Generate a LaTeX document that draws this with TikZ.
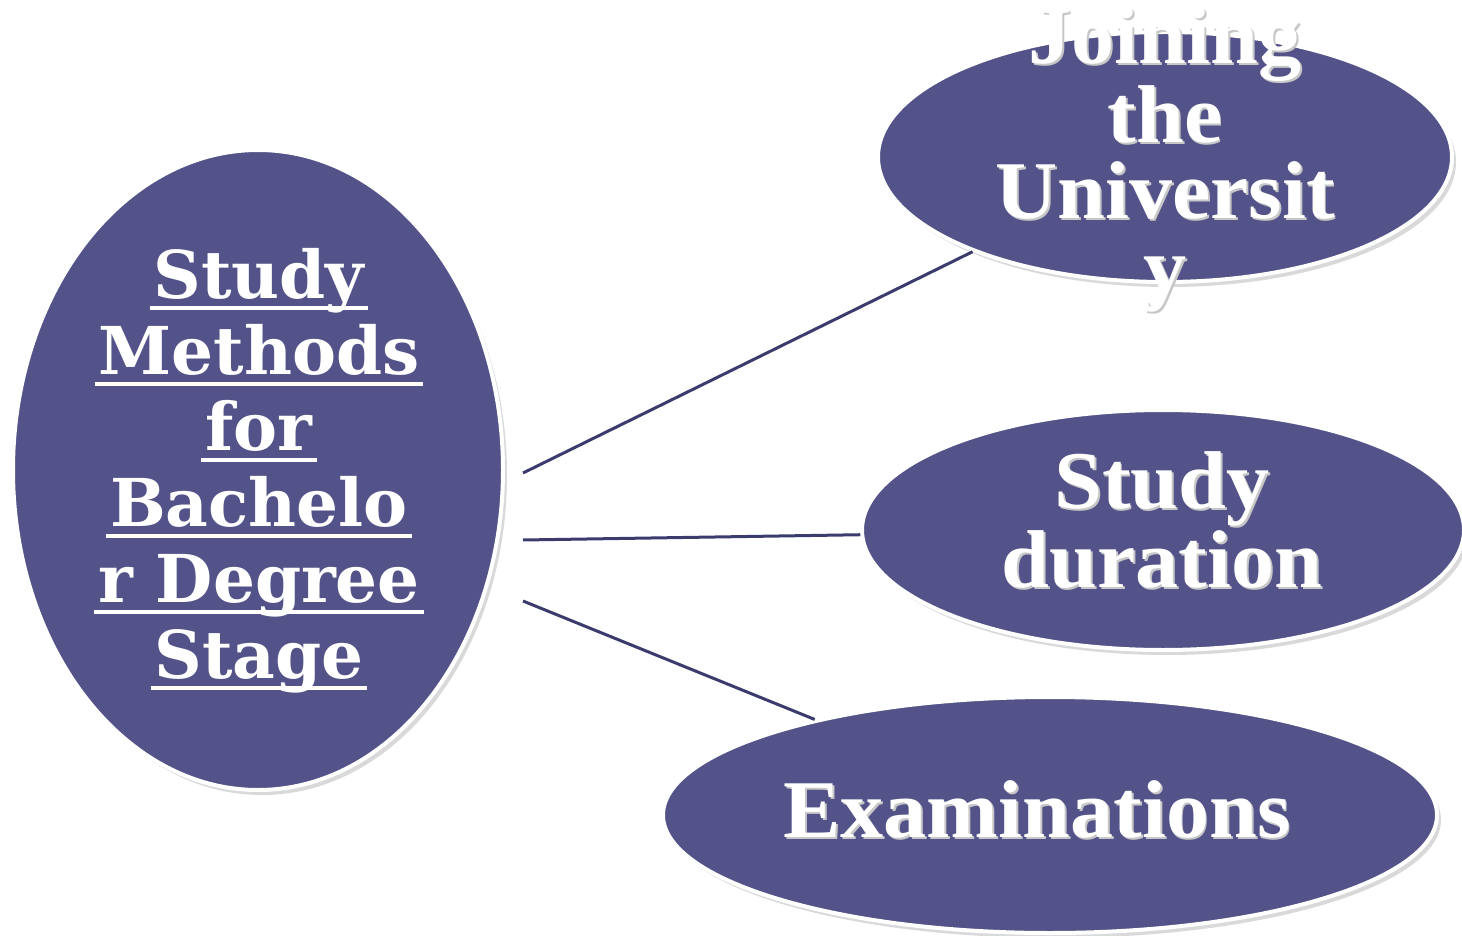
\documentclass[tikz,border=0pt]{standalone}
\usepackage{fontspec}
\setmainfont[FakeStretch=1.05]{Liberation Serif}
\newfontfamily\schoolfont{DejaVu Serif}
\usepackage{xcolor}
\usetikzlibrary{positioning, shapes.geometric, shadows}
\definecolor{bubblefill}{HTML}{535389}
\definecolor{linkcol}{HTML}{3B3B6E}
\newcommand{\ulline}[1]{\setbox0\hbox{#1}\rlap{\kern-0.06em\rule[-0.17em]{\dimexpr\wd0+0.12em\relax}{0.06em}}\box0}
\newcommand{\shd}[1]{\rlap{\kern0.9pt\raisebox{-1pt}{\color{black!22}#1}}#1}

\begin{document}
\begin{tikzpicture}[x=0.5pt, y=-0.5pt,
  bubble/.style={ellipse, draw=white, line width=2pt, fill=bubblefill,
    inner sep=0pt, drop shadow={shadow xshift=2pt, shadow yshift=-2.5pt,
    opacity=0.3}},
  bubtext/.style={text=white, align=center,
    font=\bfseries\fontsize{41}{38}\selectfont},
  maintext/.style={text=white, align=center,
    font=\schoolfont\bfseries\fontsize{33}{38}\selectfont},
  link/.style={draw=linkcol, line width=1.5pt}
]
\useasboundingbox (0,0) rectangle (1462,936);

% central topic
\node[bubble, minimum width=245pt, minimum height=320pt] (main) at (258,470) {};
\node[maintext] (maintxt) at (259,471)
  {\ulline{Study}\\\ulline{Methods}\\\ulline{for}\\\ulline{Bachelo}\\
   \ulline{r Degree}\\\ulline{Stage}};

% branch topics
\node[bubble, minimum width=287pt, minimum height=125pt] (join) at (1165,157) {};
\node[bubble, minimum width=301pt, minimum height=120pt] (duration) at (1163,530) {};
\node[bubble, minimum width=387pt, minimum height=118pt] (exams) at (1050,815) {};

\node[bubtext] (jointxt) at (1165,160)
  {\shd{Joining}\\\shd{the}\\\shd{Universit}\\\shd{y}};
\node[bubtext] (durationtxt) at (1162,521) {\shd{Study}\\\shd{duration}};
\node[bubtext] (examstxt) at (1037,810) {\shd{Examinations}};

% connectors
\coordinate (s1) at (523,473);
\coordinate (s2) at (523,540);
\coordinate (s3) at (523,601);
\draw[link] (s1) -- (join);
\draw[link] (s2) -- (duration);
\draw[link] (s3) -- (exams);

\end{tikzpicture}
\end{document}
